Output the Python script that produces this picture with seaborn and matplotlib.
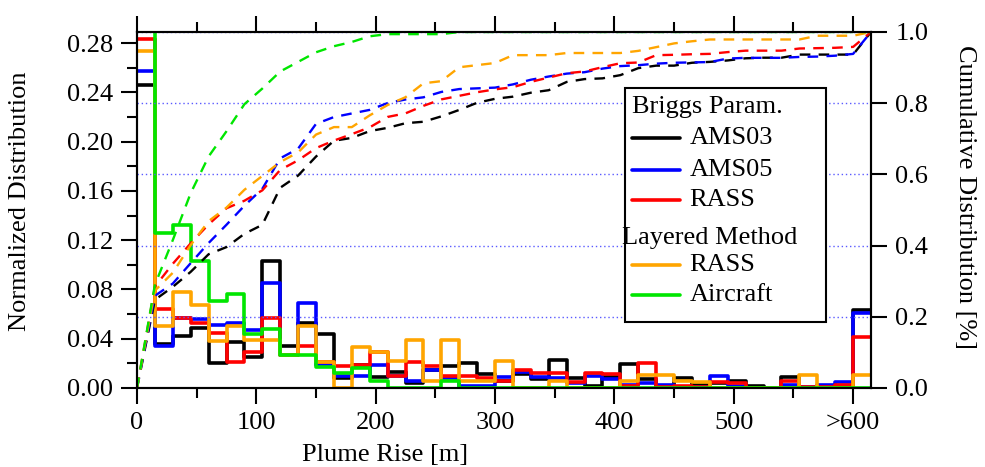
import numpy as np
import pandas as pd
import matplotlib
matplotlib.use("Agg")
import matplotlib.pyplot as plt
import seaborn as sns
from matplotlib.lines import Line2D
from matplotlib.patches import Rectangle
from matplotlib.ticker import MultipleLocator, FormatStrFormatter

# plume rise bins: 15 m wide, the last one (600-615) stands for ">600"
bin_edges = list(range(0, 616, 15))
bin_centers = [e + 7.5 for e in bin_edges[:-1]]

# normalized distribution per bin
ams03 = [0.246, 0.036, 0.042, 0.049, 0.020, 0.037, 0.025, 0.1035, 0.034, 0.053,
         0.044, 0.008, 0.019, 0.009, 0.013, 0.004, 0.015, 0.018, 0.020, 0.011,
         0.006, 0.011, 0.007, 0.023, 0.008, 0.002, 0.009, 0.0195, 0.007, 0.000,
         0.008, 0.0025, 0.004, 0.006, 0.0016, 0.000, 0.0087, 0.000, 0.000, 0.000, 0.063]
ams05 = [0.257, 0.034, 0.057, 0.056, 0.051, 0.053, 0.047, 0.085, 0.027, 0.069,
         0.019, 0.010, 0.010, 0.019, 0.010, 0.006, 0.015, 0.008, 0.002, 0.002,
         0.009, 0.013, 0.009, 0.008, 0.004, 0.010, 0.007, 0.0025, 0.0043, 0.0025,
         0.001, 0.001, 0.0097, 0.002, 0.000, 0.000, 0.0025, 0.001, 0.0025, 0.005, 0.061]
rass = [0.283, 0.064, 0.057, 0.053, 0.045, 0.021, 0.029, 0.057, 0.027, 0.034,
        0.021, 0.018, 0.019, 0.029, 0.010, 0.021, 0.018, 0.010, 0.010, 0.008,
        0.006, 0.015, 0.012, 0.012, 0.005, 0.012, 0.011, 0.002, 0.0205, 0.001,
        0.0016, 0.001, 0.005, 0.004, 0.000, 0.000, 0.006, 0.001, 0.001, 0.0025, 0.0416]
layered_rass = [0.2735, 0.050, 0.078, 0.067, 0.038, 0.050, 0.039, 0.039, 0.027, 0.050,
                0.021, 0.000, 0.033, 0.029, 0.022, 0.039, 0.006, 0.039, 0.006, 0.006,
                0.022, 0.000, 0.000, 0.006, 0.000, 0.000, 0.000, 0.006, 0.0105, 0.0105,
                0.006, 0.005, 0.000, 0.000, 0.000, 0.000, 0.000, 0.0105, 0.000, 0.000, 0.0105]
aircraft = [0.290, 0.126, 0.132, 0.103, 0.071, 0.076, 0.044, 0.048, 0.027, 0.027,
            0.017, 0.012, 0.016, 0.006, 0.000, 0.000, 0.000, 0.006, 0.000, 0.000,
            0.000, 0.000, 0.000, 0.000, 0.000, 0.000, 0.000, 0.000, 0.000, 0.000,
            0.000, 0.000, 0.000, 0.000, 0.000, 0.000, 0.000, 0.000, 0.000, 0.000, 0.000]

series_values = [ams03, ams05, rass, layered_rass, aircraft]
series_labels = ["AMS03", "AMS05", "RASS", "RASS", "Aircraft"]
series_colors = ["#000000", "#0000ff", "#ff0000", "#ffa500", "#00e600"]

x_ticks = [0, 100, 200, 300, 400, 500, 600]
x_tick_labels = ["0", "100", "200", "300", "400", "500", ">600"]

sns.set_style("ticks", {"axes.edgecolor": "black", "xtick.color": "black",
                        "ytick.color": "black", "text.color": "black",
                        "axes.labelcolor": "black"})
plt.rcParams["font.family"] = ["Liberation Serif", "DejaVu Serif"]
plt.rcParams["font.size"] = 19
plt.rcParams["axes.linewidth"] = 1.5

fig = plt.figure(figsize=(9.85, 4.67), dpi=100)
ax = fig.add_axes([137 / 985, 1 - 388 / 467, 734 / 985, 356 / 467])
ax2 = ax.twinx()

# histograms (left axis)
for vals, col in zip(series_values, series_colors):
    df = pd.DataFrame({"rise": bin_centers, "dist": vals})
    sns.histplot(data=df, x="rise", weights="dist", bins=bin_edges, element="step",
                 fill=False, color=col, linewidth=2.6, ax=ax)

# cumulative curves (right axis)
for vals, col in zip(series_values, series_colors):
    cum = np.concatenate([[0.0], np.cumsum(vals)]) / np.sum(vals)
    sns.lineplot(x=bin_edges, y=cum, color=col, linewidth=1.7,
                 linestyle=(0, (4.5, 3.5)), ax=ax2)

ax.set_xlim(0, 615)
ax.set_ylim(0, 0.289)
ax2.set_ylim(0, 1)
ax.set_xlabel("")
ax.set_ylabel("")
ax2.set_xlabel("")
ax2.set_ylabel("")

ax2.yaxis.grid(True, linestyle=(0, (1, 2)), color="#5a5aff", linewidth=1)

ax.set_xticks(x_ticks)
ax.set_xticklabels(x_tick_labels)
ax.xaxis.set_minor_locator(MultipleLocator(50))
ax.yaxis.set_major_locator(MultipleLocator(0.04))
ax.yaxis.set_minor_locator(MultipleLocator(0.02))
ax.yaxis.set_major_formatter(FormatStrFormatter("%.2f"))
ax2.set_yticks([0, 0.2, 0.4, 0.6, 0.8, 1.0])
ax2.yaxis.set_major_formatter(FormatStrFormatter("%.1f"))

ax.tick_params(axis="both", which="major", length=11.5, width=1.5, direction="out")
ax.tick_params(axis="both", which="minor", length=7.2, width=1.5, direction="out")
ax.tick_params(axis="x", which="both", top=True, labeltop=False, pad=6)
ax.tick_params(axis="y", which="major", pad=5.5)
ax2.tick_params(axis="y", length=11.5, width=1.5, direction="out", pad=6)

for a in (ax, ax2):
    for sp in a.spines.values():
        sp.set_visible(True)
        sp.set_linewidth(1.5)
        sp.set_color("black")

# legend box drawn by hand (two groups with headers)
tr = ax2.transAxes
ax2.add_patch(Rectangle((0.665, 0.185), 0.274, 0.658, transform=tr,
                        facecolor="white", edgecolor="black", linewidth=1.5, zorder=5))
ax2.text(0.674, 0.789, "Briggs Param.", transform=tr, va="center", ha="left", zorder=6)
ax2.text(0.661, 0.421, "Layered Method", transform=tr, va="center", ha="left", zorder=6)
legend_rows = [0.702, 0.612, 0.528, 0.346, 0.261]
for y, lab, col in zip(legend_rows, series_labels, series_colors):
    ax2.add_line(Line2D([0.674, 0.740], [y, y], transform=tr, color=col,
                        linewidth=2.6, zorder=6))
    ax2.text(0.753, y, lab, transform=tr, va="center", ha="left", zorder=6)

fig.text(385 / 985, 1 - 455 / 467, "Plume Rise [m]", ha="center", va="center")
fig.text(20 / 985, 1 - 201 / 467, "Normalized Distribution", rotation=90,
         ha="center", va="center")
fig.text(965 / 985, 1 - 197 / 467, "Cumulative Distribution [%]", rotation=270,
         ha="center", va="center")

fig.savefig("out.png", dpi=100)
plt.close(fig)
